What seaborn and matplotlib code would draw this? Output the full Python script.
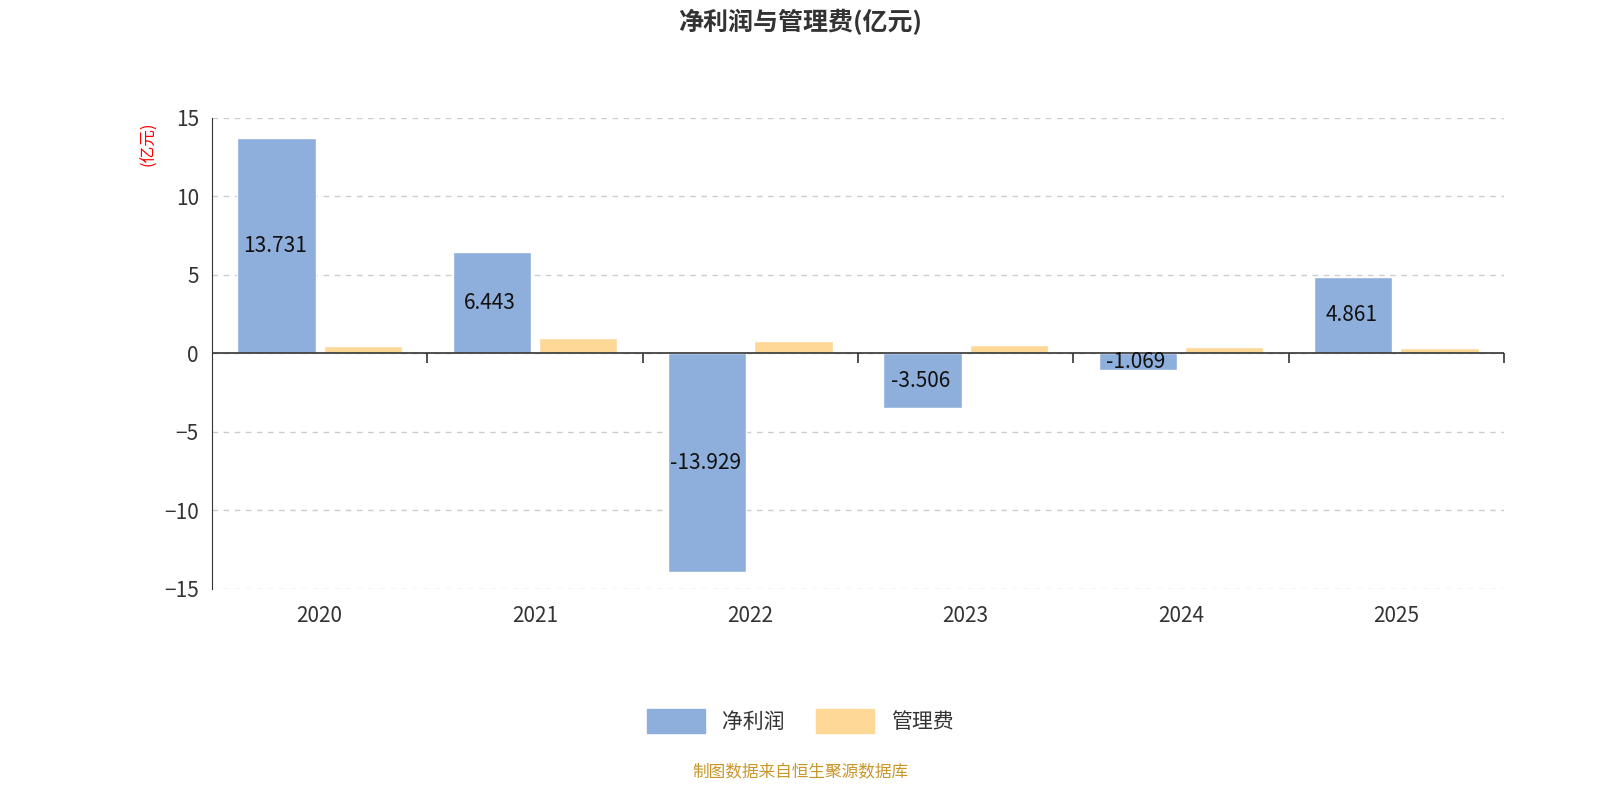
import pandas as pd
import numpy as np
import seaborn as sns
import matplotlib.pyplot as plt

sns.set_style('white')
plt.rcParams['font.family'] = ['Noto Sans CJK SC', 'DejaVu Sans']

years = ['2020', '2021', '2022', '2023', '2024', '2025']
net_profit = [13.731, 6.443, -13.929, -3.506, -1.069, 4.861]
admin_fee = [0.50, 0.95, 0.80, 0.55, 0.40, 0.35]
series = ['净利润', '管理费']
colors = ['#8eaedb', '#fed897']

df = pd.DataFrame({
    'year': years * 2,
    'value': net_profit + admin_fee,
    'series': [series[0]] * len(years) + [series[1]] * len(years),
})

fig = plt.figure(figsize=(16, 8), dpi=100)
ax = fig.add_axes([0.1325, 0.264, 0.8075, 0.5885])
sns.barplot(data=df, x='year', y='value', hue='series', palette=colors,
            width=0.8, gap=0.09, ax=ax, legend=False, saturation=1)

ax.set_xlim(-0.5, 5.5)
ax.set_ylim(-15, 15)
ax.set_yticks([-15, -10, -5, 0, 5, 10, 15])
ax.yaxis.grid(True, linestyle=(0, (4, 4)), color='#cccccc', linewidth=1)
ax.set_axisbelow(True)
for s in ['top', 'right', 'bottom']:
    ax.spines[s].set_visible(False)
ax.spines['left'].set_color('#333333')
ax.axhline(0, color='#333333', linewidth=1.2)
ax.vlines(np.arange(0.5, 6, 1), 0, -0.6, color='#333333', linewidth=1.2, clip_on=False)
ax.tick_params(axis='y', length=6, color='#333333', labelsize=15, labelcolor='#333333')
ax.tick_params(axis='x', length=0, labelsize=15, labelcolor='#333333', pad=12)
ax.set_xlabel('')
ax.set_ylabel('')

for i, v in enumerate(net_profit):
    ax.text(i - 0.2 - 0.009, v / 2, f'{v:.3f}', ha='center', va='center', fontsize=15, color='#111111')

fig.text(0.093, 0.82, '(亿元)', color='red', rotation=90, fontsize=12, ha='center', va='center')
fig.text(0.5, 0.972, '净利润与管理费(亿元)', fontsize=18, fontweight='bold', color='#333333', ha='center', va='center')

handles = [plt.Rectangle((0, 0), 1, 1, facecolor=c, edgecolor=c) for c in colors]
fig.legend(handles, series, loc='center', bbox_to_anchor=(0.5, 0.099), ncol=2, frameon=False,
           fontsize=15, handlelength=2.8, handleheight=1.4, columnspacing=1.5, labelcolor='#333333')
fig.text(0.5, 0.034, '制图数据来自恒生聚源数据库', color='#c8962a', fontsize=12, ha='center', va='center')

fig.savefig('out.png', dpi=100)
